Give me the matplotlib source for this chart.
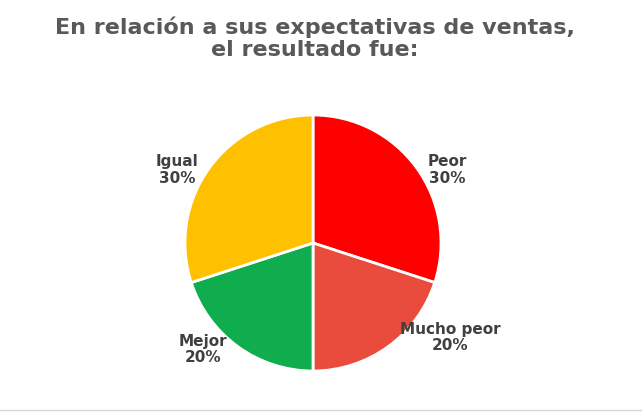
import matplotlib.pyplot as plt
from matplotlib.lines import Line2D

categories = ["Peor", "Mucho peor", "Mejor", "Igual"]
values = [30, 20, 20, 30]
colors = ["#FF0000", "#E94B3C", "#10AD4F", "#FFC000"]

# label positions relative to pie centre (radius = 1)
label_pos = [(1.05, 0.57), (1.07, -0.74), (-0.86, -0.83), (-1.06, 0.57)]

fig = plt.figure(figsize=(6.42, 4.18), dpi=100)
fig.text(0.49, 0.96, "En relación a sus expectativas de ventas,\nel resultado fue:",
         ha="center", va="top", fontsize=16, fontweight="bold", color="#595959",
         linespacing=1.1)

ax = fig.add_axes([(313 - 128) / 642, (418 - 243 - 128) / 418, 256 / 642, 256 / 418])
ax.pie(values, colors=colors, startangle=90, counterclock=False,
       wedgeprops=dict(edgecolor="white", linewidth=2))
ax.set_xlim(-1, 1)
ax.set_ylim(-1, 1)

for name, v, (x, y) in zip(categories, values, label_pos):
    ax.text(x, y, f"{name}\n{v}%", ha="center", va="center", fontsize=11,
            fontweight="bold", color="#404040", linespacing=1.1, clip_on=False)

fig.add_artist(Line2D([0, 1], [0.02, 0.02], color="#D9D9D9", linewidth=1))
fig.savefig("out.png")
